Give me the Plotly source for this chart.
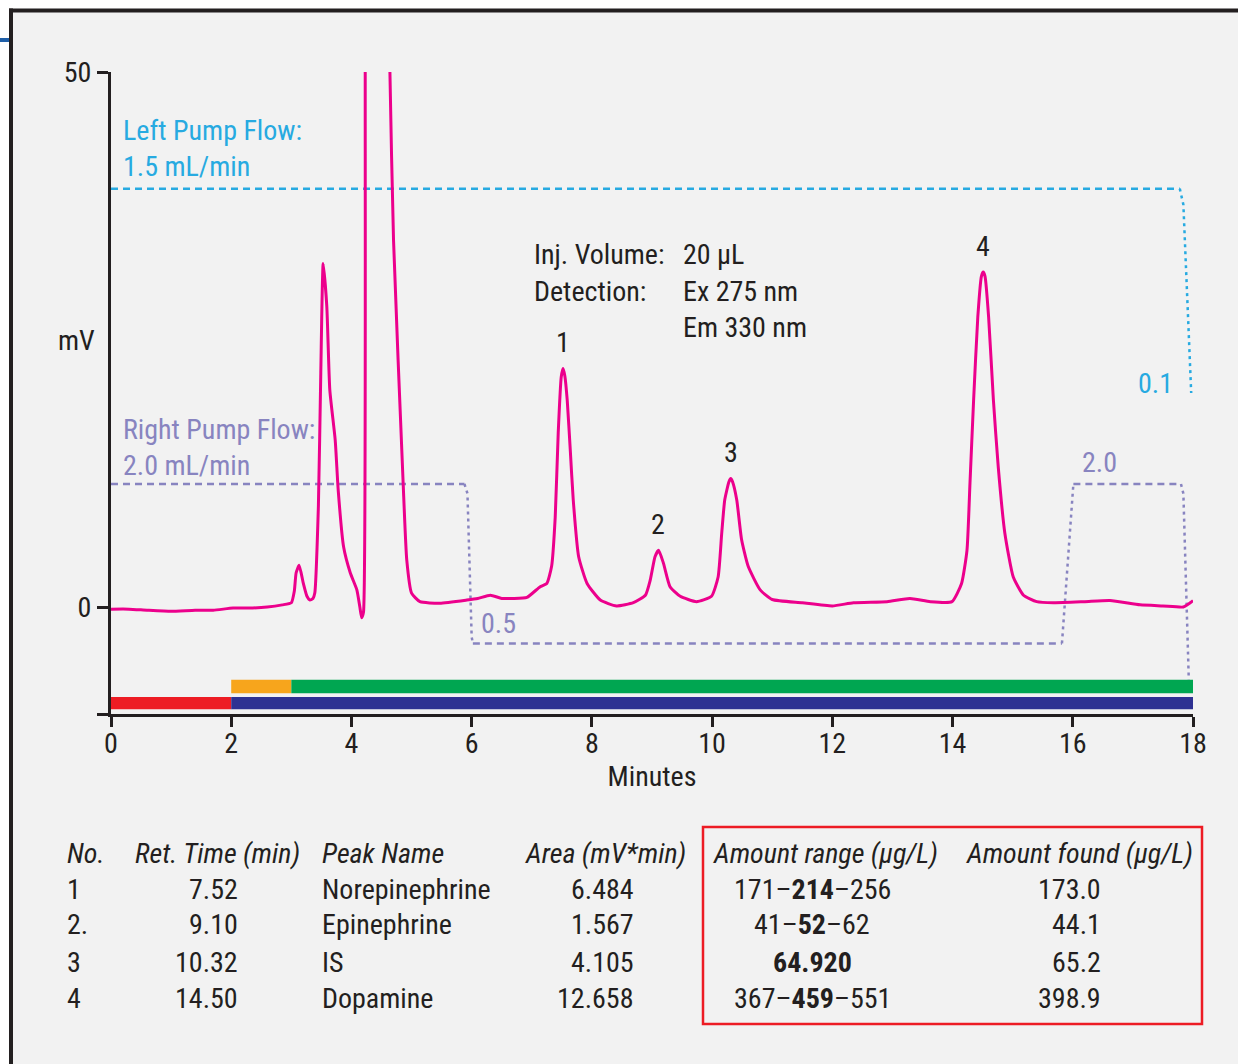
import plotly.graph_objects as go
import numpy as np

# ---------------- data ----------------
# chromatogram (minutes, mV)
time_min = [0.00, 0.30, 0.60, 1.00, 1.40, 1.70, 2.03, 2.30, 2.60, 2.85, 3.00, 3.05, 3.08, 3.13,
            3.20, 3.26, 3.31, 3.36, 3.39, 3.45, 3.49, 3.53, 3.59, 3.64, 3.73, 3.78, 3.87, 3.98,
            4.09, 4.14, 4.17, 4.20, 4.23, 4.25, 4.60, 4.64, 4.70, 4.86, 4.92, 5.00, 5.14, 5.47,
            5.92, 6.10, 6.31, 6.50, 6.69, 6.92, 7.14, 7.25, 7.33, 7.39, 7.44, 7.49, 7.52, 7.55,
            7.59, 7.64, 7.69, 7.78, 7.92, 8.14, 8.41, 8.69, 8.89, 8.97, 9.05, 9.11, 9.19, 9.30,
            9.47, 9.74, 9.99, 10.10, 10.16, 10.21, 10.28, 10.31, 10.34, 10.41, 10.49, 10.60,
            10.80, 11.00, 11.50, 12.00, 12.35, 12.91, 13.29, 13.63, 13.99, 14.15, 14.24, 14.29,
            14.35, 14.42, 14.48, 14.51, 14.54, 14.60, 14.68, 14.76, 14.87, 15.01, 15.18, 15.40,
            15.68, 16.20, 16.62, 17.12, 17.50, 17.84, 17.93, 18.00]
signal_mv = [-0.2, -0.2, -0.3, -0.4, -0.3, -0.3, -0.1, -0.1, 0.0, 0.2, 0.4, 1.5, 3.2, 3.9,
             2.2, 1.0, 0.65, 0.8, 1.3, 9.4, 21.9, 32.1, 28.1, 20.3, 15.6, 10.9, 5.6, 3.2,
             1.6, 0.0, -1.0, -0.5, 55.0, 70.0, 70.0, 50.0, 34.3, 11.6, 4.4, 1.3, 0.5, 0.35,
             0.65, 0.8, 1.1, 0.8, 0.8, 0.9, 1.9, 2.2, 3.8, 8.4, 16.3, 21.5, 22.3, 21.6,
             19.3, 14.7, 10.0, 4.7, 2.2, 0.65, 0.1, 0.4, 1.1, 2.5, 4.7, 5.3, 4.1, 1.9,
             1.0, 0.5, 1.0, 2.8, 6.9, 10.0, 11.7, 12.0, 11.7, 10.0, 6.3, 3.8,
             1.6, 0.7, 0.4, 0.1, 0.4, 0.5, 0.8, 0.5, 0.5, 2.2, 5.3, 11.6,
             19.3, 27.1, 30.9, 31.3, 30.9, 27.1, 19.3, 13.1, 6.9, 2.8, 1.1, 0.5,
             0.4, 0.5, 0.6, 0.2, 0.1, 0.0, 0.3, 0.6]

# pump flow programs, drawn in the chart's mV units
left_pump_t = [0.0, 17.78]
left_pump_v = [39.1, 39.1]
left_drop_t = [17.78, 17.84, 17.97]
left_drop_v = [39.1, 37.6, 20.0]

right_flat_t = [0.0, 5.88, None, 6.02, 15.82, None, 16.01, 17.80]
right_flat_v = [11.5, 11.5, None, -3.4, -3.4, None, 11.5, 11.5]
right_step_t = [5.88, 5.93, 6.00, 6.02, None, 15.82, 16.01, None, 17.80, 17.84, 17.93]
right_step_v = [11.5, 10.6, -2.8, -3.4, None, -3.4, 11.5, None, 11.5, 10.6, -6.8]

# eluent bars (start min, end min)
bar_top_start = [2.0, 3.0]
bar_top_end = [3.0, 18.0]
bar_top_color = ["#f7a51c", "#00a651"]
bar_bot_start = [0.0, 2.0]
bar_bot_end = [2.0, 18.0]
bar_bot_color = ["#ed1c24", "#2e3192"]

x_ticks = [0, 2, 4, 6, 8, 10, 12, 14, 16, 18]
y_ticks = [-10, 0, 50]
y_tick_text = ["", "0", "50"]

# peak table
peak_no = ["1", "2.", "3", "4"]
peak_label = ["1", "2", "3", "4"]
ret_time = [7.52, 9.10, 10.32, 14.50]
peak_name = ["Norepinephrine", "Epinephrine", "IS", "Dopamine"]
area = ["6.484", "1.567", "4.105", "12.658"]
amount_range = ["171–<b>214</b>–256", "41–<b>52</b>–62", "<b>64.920</b>", "367–<b>459</b>–551"]
amount_found = ["173.0", "44.1", "65.2", "398.9"]

# ---------------- styling ----------------
FONT = "Liberation Sans Narrow, Arial Narrow, Roboto Condensed, DejaVu Sans Condensed, Liberation Sans, sans-serif"
FS = 28
INK = "#231f20"
PINK = "#ec008c"
CYAN = "#27aae1"
PURPLE = "#8884c0"
BG = "#f2f2f2"

W, H = 1238, 1064
L, R, T, B = 111, 1193, 72, 714


def fx(px):
    return (px - L) / (R - L)


def fy(py):
    return (B - py) / (B - T)


fig = go.Figure()

fig.add_trace(go.Scatter(x=left_pump_t, y=left_pump_v, mode="lines",
                         line=dict(color=CYAN, width=2.5, dash="7px,5px"), hoverinfo="skip"))
fig.add_trace(go.Scatter(x=left_drop_t, y=left_drop_v, mode="lines",
                         line=dict(color=CYAN, width=2.5, dash="3px,4px"), hoverinfo="skip"))
fig.add_trace(go.Scatter(x=right_flat_t, y=right_flat_v, mode="lines", connectgaps=False,
                         line=dict(color=PURPLE, width=2.5, dash="7px,5px"), hoverinfo="skip"))
fig.add_trace(go.Scatter(x=right_step_t, y=right_step_v, mode="lines", connectgaps=False,
                         line=dict(color=PURPLE, width=2.5, dash="3px,4px"), hoverinfo="skip"))
fig.add_trace(go.Scatter(x=time_min, y=signal_mv, mode="lines",
                         line=dict(color=PINK, width=3, shape="spline", smoothing=0.5)))

shapes = []
for s, e, c in zip(bar_top_start, bar_top_end, bar_top_color):
    shapes.append(dict(type="rect", xref="x", yref="y", x0=s, x1=e, y0=-8.05, y1=-6.8,
                       fillcolor=c, line=dict(width=0)))
for s, e, c in zip(bar_bot_start, bar_bot_end, bar_bot_color):
    shapes.append(dict(type="rect", xref="x", yref="y", x0=s, x1=e, y0=-9.55, y1=-8.4,
                       fillcolor=c, line=dict(width=0)))

# page frame
shapes += [
    dict(type="rect", xref="paper", yref="paper", x0=fx(0), x1=fx(W), y0=fy(0), y1=fy(9),
         fillcolor="white", line=dict(width=0)),
    dict(type="rect", xref="paper", yref="paper", x0=fx(0), x1=fx(9), y0=fy(0), y1=fy(H),
         fillcolor="white", line=dict(width=0)),
    dict(type="line", xref="paper", yref="paper", x0=fx(9), x1=fx(W), y0=fy(10.5), y1=fy(10.5),
         line=dict(color=INK, width=4)),
    dict(type="line", xref="paper", yref="paper", x0=fx(11), x1=fx(11), y0=fy(8.5), y1=fy(H),
         line=dict(color=INK, width=4)),
    dict(type="line", xref="paper", yref="paper", x0=fx(0), x1=fx(9), y0=fy(40), y1=fy(40),
         line=dict(color="#1f5fa8", width=4)),
    # red box around amounts
    dict(type="rect", xref="paper", yref="paper", x0=fx(703), x1=fx(1202), y0=fy(1024), y1=fy(827),
         line=dict(color="#ed1c24", width=2.5)),
]

ann = []


def txt(text, px, py, anchor="left", color=INK, size=FS):
    ann.append(dict(text=text, x=fx(px), y=fy(py), xref="paper", yref="paper",
                    xanchor=anchor, yanchor="middle", showarrow=False,
                    font=dict(family=FONT, size=size, color=color)))


# pump labels
txt("Left Pump Flow:", 121, 131, color=CYAN)
txt("1.5 mL/min", 121, 167, color=CYAN)
txt("Right Pump Flow:", 121, 429, color=PURPLE)
txt("2.0 mL/min", 121, 465, color=PURPLE)
txt("0.5", 479, 623, color=PURPLE)
txt("2.0", 1080, 462, color=PURPLE)
txt("0.1", 1136, 383, color=CYAN)

# conditions
txt("Inj. Volume:", 532, 254)
txt("20 µL", 681, 254)
txt("Detection:", 532, 291)
txt("Ex 275 nm", 681, 291)
txt("Em 330 nm", 681, 327)

# y title
txt("mV", 56, 340)

# peak numbers above apexes
t_arr = np.array(time_min)
s_arr = np.array(signal_mv)
for lab, rt in zip(peak_label, ret_time):
    win = (t_arr > rt - 0.12) & (t_arr < rt + 0.12)
    apex = float(s_arr[win].max())
    ann.append(dict(text=lab, x=rt, y=apex, xref="x", yref="y", xanchor="center",
                    yanchor="middle", yshift=26, showarrow=False,
                    font=dict(family=FONT, size=FS, color=INK)))

# table
head_y = 853
row_y = [889, 925, 962, 998]
txt("<i>No.</i>", 65, head_y)
txt("<i>Ret. Time (min)</i>", 133, head_y)
txt("<i>Peak Name</i>", 320, head_y)
txt("<i>Area (mV*min)</i>", 523, head_y)
txt("<i>Amount range (µg/L)</i>", 711, head_y)
txt("<i>Amount found (µg/L)</i>", 964, head_y)
for i, yy in enumerate(row_y):
    txt(peak_no[i], 65, yy)
    txt(f"{ret_time[i]:.2f}", 240, yy, anchor="right")
    txt(peak_name[i], 320, yy)
    txt(area[i], 636, yy, anchor="right")
    txt(amount_range[i], 812, yy, anchor="center")
    txt(amount_found[i], 1103, yy, anchor="right")

fig.update_layout(
    width=W, height=H,
    margin=dict(l=L, r=W - R, t=T, b=H - B, pad=0),
    paper_bgcolor=BG, plot_bgcolor=BG,
    showlegend=False,
    font=dict(family=FONT, size=FS, color=INK),
    shapes=shapes, annotations=ann,
    xaxis=dict(range=[0, 18], tickvals=x_ticks, ticks="outside", ticklen=10, tickwidth=3,
               tickcolor=INK, showline=True, linewidth=3, linecolor=INK, showgrid=False,
               zeroline=False, tickfont=dict(family=FONT, size=FS, color=INK),
               ticklabelstandoff=-8,
               title=dict(text="Minutes", standoff=8, font=dict(family=FONT, size=FS, color=INK))),
    yaxis=dict(range=[-10, 50], tickvals=y_ticks, ticktext=y_tick_text, ticks="outside",
               ticklen=11, tickwidth=3, tickcolor=INK, showline=True, linewidth=3, linecolor=INK,
               showgrid=False, zeroline=False, tickfont=dict(family=FONT, size=FS, color=INK)),
)

fig.write_html("out.html", config={"displayModeBar": False},
               post_script="document.body.style.margin='0';document.body.style.overflow='hidden';")
